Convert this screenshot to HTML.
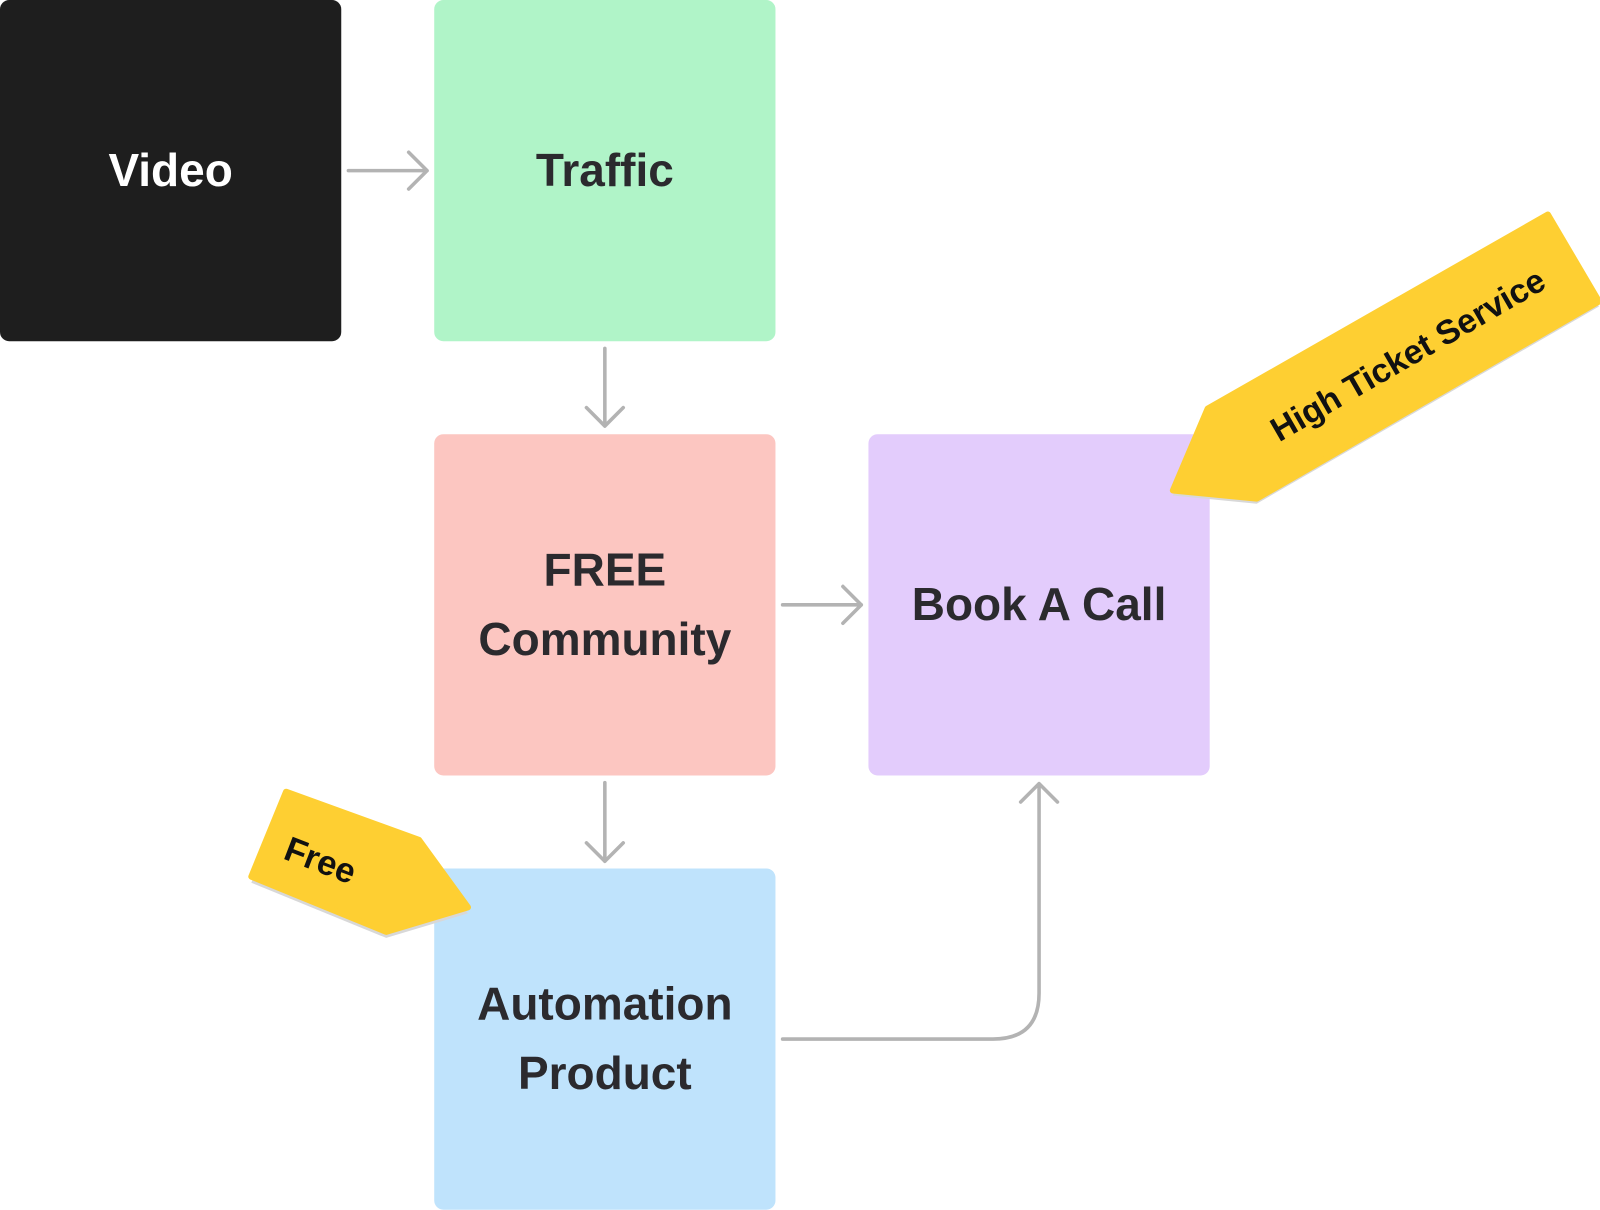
<!DOCTYPE html>
<html><head><style>
body{margin:0;width:1600px;height:1209px;background:#fff;overflow:hidden;position:relative;font-family:"Liberation Sans",sans-serif}
#w{position:absolute;left:0;top:0;width:1566px;height:1184px;transform:scale(1.0217);transform-origin:0 0}
.b{position:absolute;width:334px;height:334px;border-radius:9px;display:flex;align-items:center;justify-content:center;text-align:center;font-weight:bold;font-size:45px;line-height:68px;color:#2b2a2e}
</style></head><body><div id="w">
<div class="b" style="left:0;top:0;background:#1e1e1e;color:#fff">Video</div>
<div class="b" style="left:425px;top:0;background:#b0f4c8">Traffic</div>
<div class="b" style="left:425px;top:425px;background:#fcc6c1">FREE<br>Community</div>
<div class="b" style="left:850px;top:425px;background:#e3ccfc">Book A Call</div>
<div class="b" style="left:425px;top:850px;background:#bfe3fc">Automation<br>Product</div>
<svg width="1566" height="1184" style="position:absolute;left:0;top:0">
<g fill="none" stroke="#b3b3b3" stroke-width="3.5" stroke-linecap="round" stroke-linejoin="round">
<path d="M341 167H418M400 149L418 167L400 185"/>
<path d="M592 341V417M574 399L592 417L610 399"/>
<path d="M766 592H843M825 574L843 592L825 610"/>
<path d="M592 766V843M574 825L592 843L610 825"/>
<path d="M766 1017H972Q1017 1017 1017 972V767M999 785L1017 767L1035 785"/>
</g>
<polygon points="1148,485 1182,405 1515,215 1565,300 1230,493" fill="#d8d8d8"/>
<polygon points="1148,480 1182,400 1515,210 1565,295 1230,488" fill="#fecf32" stroke="#fecf32" stroke-width="6" stroke-linejoin="round"/>
<text x="0" y="0" transform="translate(1252,433) rotate(-30)" font-size="33" font-weight="bold" fill="#111">High Ticket Service</text>
<polygon points="280,781 410,828 458,894 378,918 246,864" fill="#d8d8d8"/>
<polygon points="280,775 410,822 458,888 378,912 246,858" fill="#fecf32" stroke="#fecf32" stroke-width="6" stroke-linejoin="round"/>
<text x="0" y="0" transform="translate(276,840) rotate(21)" font-size="34" font-weight="bold" fill="#111">Free</text>
</svg>
</div></body></html>
